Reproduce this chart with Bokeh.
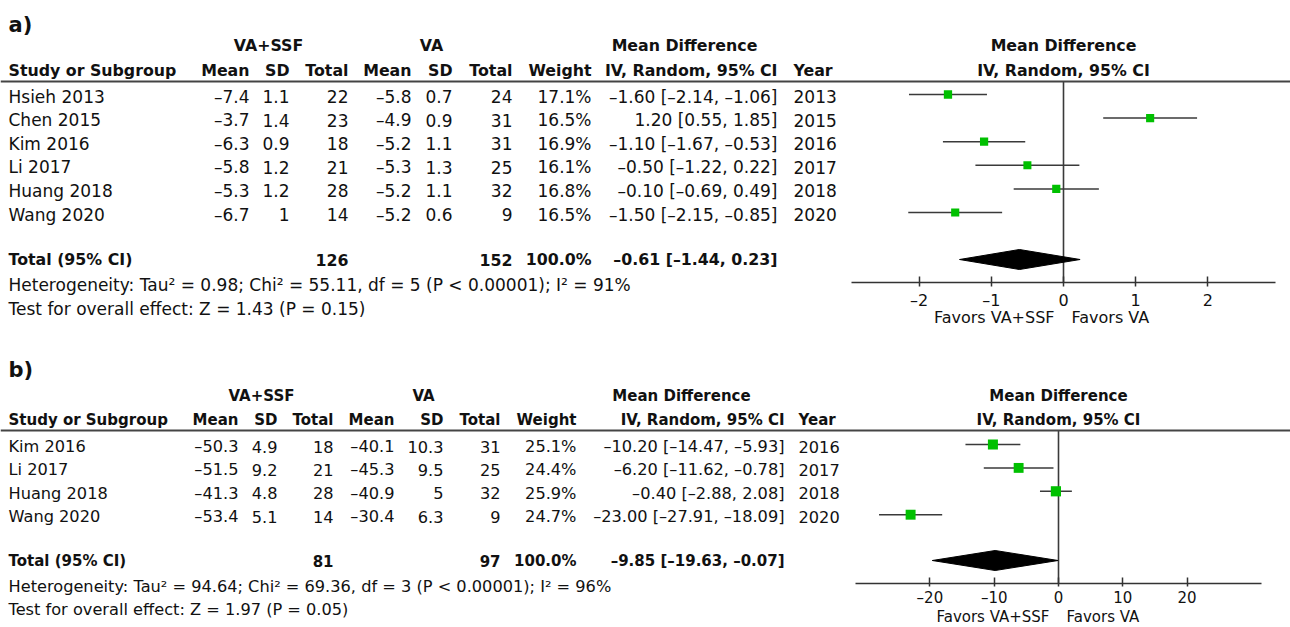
import math
from bokeh.plotting import figure
from bokeh.models import Range1d, LinearAxis, Span, FixedTicker
from bokeh.core.properties import value
from bokeh.embed import file_html
from bokeh.resources import INLINE

# ---------------- data : panel a ----------------
studies_a = ["Hsieh 2013", "Chen 2015", "Kim 2016", "Li 2017", "Huang 2018", "Wang 2020"]
mean1_a = [-7.4, -3.7, -6.3, -5.8, -5.3, -6.7]
sd1_a = [1.1, 1.4, 0.9, 1.2, 1.2, 1]
n1_a = [22, 23, 18, 21, 28, 14]
mean2_a = [-5.8, -4.9, -5.2, -5.3, -5.2, -5.2]
sd2_a = [0.7, 0.9, 1.1, 1.3, 1.1, 0.6]
n2_a = [24, 31, 31, 25, 32, 9]
weight_a = [17.1, 16.5, 16.9, 16.1, 16.8, 16.5]
md_a = [-1.60, 1.20, -1.10, -0.50, -0.10, -1.50]
lo_a = [-2.14, 0.55, -1.67, -1.22, -0.69, -2.15]
hi_a = [-1.06, 1.85, -0.53, 0.22, 0.49, -0.85]
year_a = [2013, 2015, 2016, 2017, 2018, 2020]
total_a = dict(n1=126, n2=152, weight=100.0, md=-0.61, lo=-1.44, hi=0.23)
het_a = "Heterogeneity: Tau² = 0.98; Chi² = 55.11, df = 5 (P < 0.00001); I² = 91%"
test_a = "Test for overall effect: Z = 1.43 (P = 0.15)"
ticks_a = [-2, -1, 0, 1, 2]

# ---------------- data : panel b ----------------
studies_b = ["Kim 2016", "Li 2017", "Huang 2018", "Wang 2020"]
mean1_b = [-50.3, -51.5, -41.3, -53.4]
sd1_b = [4.9, 9.2, 4.8, 5.1]
n1_b = [18, 21, 28, 14]
mean2_b = [-40.1, -45.3, -40.9, -30.4]
sd2_b = [10.3, 9.5, 5, 6.3]
n2_b = [31, 25, 32, 9]
weight_b = [25.1, 24.4, 25.9, 24.7]
md_b = [-10.20, -6.20, -0.40, -23.00]
lo_b = [-14.47, -11.62, -2.88, -27.91]
hi_b = [-5.93, -0.78, 2.08, -18.09]
year_b = [2016, 2017, 2018, 2020]
total_b = dict(n1=81, n2=97, weight=100.0, md=-9.85, lo=-19.63, hi=-0.07)
het_b = "Heterogeneity: Tau² = 94.64; Chi² = 69.36, df = 3 (P < 0.00001); I² = 96%"
test_b = "Test for overall effect: Z = 1.97 (P = 0.05)"
ticks_b = [-20, -10, 0, 10, 20]

header2 = ["Mean", "SD", "Total", "Mean", "SD", "Total", "Weight", "IV, Random, 95% CI"]
groups = ["VA+SSF", "VA", "Mean Difference"]

# ---------------- layout ----------------
W, H = 1290, 627
X0, Y0 = 0, 0
FONT = "DejaVu Sans"
GREEN = "#00c000"
INK = "#111111"
LINE = "#3a3a3a"

p = figure(width=W, height=H, x_range=Range1d(X0, X0 + W), y_range=Range1d(Y0 + H, Y0),
           output_backend="svg", toolbar_location=None, x_axis_type=None, y_axis_type=None,
           min_border=0, outline_line_color=None)
p.background_fill_color = "white"


def minus(s):
    return s.replace("-", "\u2013")


def txt(xs, ys, texts, align="left", size=16.5, bold=False, rng=None, xoff=0):
    kw = {}
    if rng is not None:
        kw["x_range_name"] = rng
    p.text(x=list(xs), y=list(ys), text=list(texts), text_align=align, text_baseline="middle",
           text_font=value(FONT), text_font_size=value(f"{size}px"),
           text_font_style="bold" if bold else "normal", text_color=INK, x_offset=xoff, **kw)


def panel(L, studies, mean1, sd1, n1, mean2, sd2, n2, weight, md, lo, hi, year, tot, het, test, ticks):
    fs, fsb, rn = L["fs"], L["fsb"], L["rn"]
    # forest x-range mapped over the whole frame
    p.extra_x_ranges[rn] = Range1d((X0 - L["zero"]) / L["pxu"], (X0 + W - L["zero"]) / L["pxu"])

    txt([L["name_x"]], [L["label_y"]], [L["label"]], size=21, bold=True)
    # group headers
    txt(L["grp"], [L["h1"]] * 3, groups, align="center", size=fsb, bold=True)
    txt([0], [L["h1"]], ["Mean Difference"], align="center", size=fsb, bold=True, rng=rn)
    # column headers
    txt([L["name_x"]], [L["h2"]], ["Study or Subgroup"], size=fsb, bold=True)
    txt(L["cols"], [L["h2"]] * len(header2), header2, align="right", size=fsb, bold=True)
    txt([L["year_x"]], [L["h2"]], ["Year"], size=fsb, bold=True)
    txt([0], [L["h2"]], ["IV, Random, 95% CI"], align="center", size=fsb, bold=True, rng=rn)
    p.add_layout(Span(location=L["line"], dimension="width", line_color="#444444", line_width=2))

    ys = [L["row0"] + i * L["dy"] for i in range(len(studies))]
    cols = L["cols"]
    nx = [L["name_x"]] * len(ys)
    txt(nx, ys, studies, size=fs)
    txt([cols[0]] * len(ys), ys, [minus(f"{v:g}") for v in mean1], align="right", size=fs)
    txt([cols[1]] * len(ys), ys, [f"{v:g}" for v in sd1], align="right", size=fs)
    txt([cols[2]] * len(ys), ys, [str(v) for v in n1], align="right", size=fs)
    txt([cols[3]] * len(ys), ys, [minus(f"{v:g}") for v in mean2], align="right", size=fs)
    txt([cols[4]] * len(ys), ys, [f"{v:g}" for v in sd2], align="right", size=fs)
    txt([cols[5]] * len(ys), ys, [str(v) for v in n2], align="right", size=fs)
    txt([cols[6]] * len(ys), ys, [f"{v:.1f}%" for v in weight], align="right", size=fs)
    txt([cols[7]] * len(ys), ys, [minus(f"{m:.2f} [{a:.2f}, {b:.2f}]") for m, a, b in zip(md, lo, hi)],
        align="right", size=fs)
    txt([L["year_x"]] * len(ys), ys, [str(v) for v in year], size=fs)

    # totals
    ty = L["total"]
    txt([L["name_x"]], [ty], ["Total (95% CI)"], size=fsb, bold=True)
    txt([cols[2], cols[5], cols[6], cols[7]], [ty] * 4,
        [str(tot["n1"]), str(tot["n2"]), f"{tot['weight']:.1f}%",
         minus(f"{tot['md']:.2f} [{tot['lo']:.2f}, {tot['hi']:.2f}]")], align="right", size=fsb, bold=True)
    txt([L["name_x"]], [L["het"]], [het], size=fs)
    txt([L["name_x"]], [L["test"]], [test], size=fs)

    # forest marks
    ym = [y - 2 for y in ys]
    p.segment(x0=[0], y0=[L["line"]], x1=[0], y1=[L["axis_y"]], x_range_name=rn,
              line_color=LINE, line_width=1.6)
    p.segment(x0=lo, y0=ym, x1=hi, y1=ym, x_range_name=rn, line_color=LINE, line_width=1.5)
    p.scatter(x=md, y=ym, marker="square", size=[2 * math.sqrt(w) for w in weight],
              x_range_name=rn, fill_color=GREEN, line_color=None)
    p.patch(x=[tot["lo"], tot["md"], tot["hi"], tot["md"]], y=[ty, ty - 10, ty, ty + 10],
            x_range_name=rn, fill_color="black", line_color="black", line_width=1)

    ax = LinearAxis(x_range_name=rn, fixed_location=L["axis_y"], bounds=(-L["bound"], L["bound"]),
                    ticker=FixedTicker(ticks=ticks),
                    major_label_overrides={t: minus(str(t)) for t in ticks})
    ax.axis_line_color = "#333333"
    ax.axis_line_width = 1.5
    ax.major_tick_line_color = "#333333"
    ax.major_tick_line_width = 1.5
    ax.major_tick_in = 6
    ax.major_tick_out = L["tick_out"]
    ax.minor_tick_in = 0
    ax.minor_tick_out = 0
    ax.major_label_standoff = L["standoff"]
    ax.major_label_text_font = FONT
    ax.major_label_text_font_size = f"{L['ffs']}px"
    ax.major_label_text_color = INK
    p.add_layout(ax, "below")

    txt([0], [L["fav_y"]], ["Favors VA+SSF"], align="right", size=L["ffs"], rng=rn, xoff=-9)
    txt([0], [L["fav_y"]], ["Favors VA"], align="left", size=L["ffs"], rng=rn, xoff=8)


LA = dict(label="a)", label_y=24, h1=45, h2=70, line=81, row0=96, dy=23.6, total=259, het=284, test=308,
          name_x=8, cols=[249, 289, 348, 411, 452, 512, 591, 777], year_x=793, grp=[268, 431, 684],
          zero=1063, pxu=72.2, axis_y=282, bound=2.93, fav_y=317, ffs=16, tick_out=4, standoff=4,
          fs=17, fsb=15.8, rn="fa")
LB = dict(label="b)", label_y=369, h1=395, h2=419, line=430, row0=446, dy=23.4, total=560, het=586, test=609,
          name_x=8, cols=[238, 277, 333, 394, 443, 500, 576, 784], year_x=798, grp=[261, 423, 681],
          zero=1058, pxu=6.43, axis_y=583, bound=31.6, fav_y=616, ffs=15, tick_out=3, standoff=2,
          fs=16.2, fsb=15, rn="fb")

panel(LA, studies_a, mean1_a, sd1_a, n1_a, mean2_a, sd2_a, n2_a, weight_a, md_a, lo_a, hi_a, year_a,
      total_a, het_a, test_a, ticks_a)
panel(LB, studies_b, mean1_b, sd1_b, n1_b, mean2_b, sd2_b, n2_b, weight_b, md_b, lo_b, hi_b, year_b,
      total_b, het_b, test_b, ticks_b)

open("out.html", "w").write(file_html(p, INLINE))
